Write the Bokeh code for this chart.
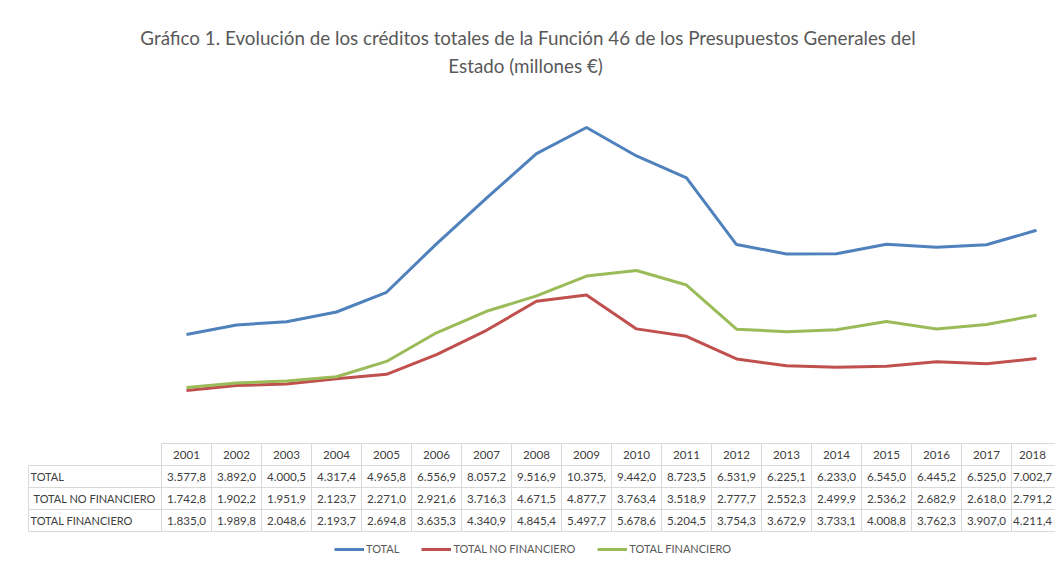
from bokeh.plotting import figure
from bokeh.models import Range1d, Legend, LegendItem, Title
from bokeh.embed import file_html
from bokeh.resources import INLINE
from bokeh.core.properties import value

# ---------------- data ----------------
years = ["2001", "2002", "2003", "2004", "2005", "2006", "2007", "2008", "2009",
         "2010", "2011", "2012", "2013", "2014", "2015", "2016", "2017", "2018"]
total = [3577.8, 3892.0, 4000.5, 4317.4, 4965.8, 6556.9, 8057.2, 9516.9, 10375.0,
         9442.0, 8723.5, 6531.9, 6225.1, 6233.0, 6545.0, 6445.2, 6525.0, 7002.7]
no_fin = [1742.8, 1902.2, 1951.9, 2123.7, 2271.0, 2921.6, 3716.3, 4671.5, 4877.7,
          3763.4, 3518.9, 2777.7, 2552.3, 2499.9, 2536.2, 2682.9, 2618.0, 2791.2]
fin = [1835.0, 1989.8, 2048.6, 2193.7, 2694.8, 3635.3, 4340.9, 4845.4, 5497.7,
       5678.6, 5204.5, 3754.3, 3672.9, 3733.1, 4008.8, 3762.3, 3907.0, 4211.4]
series_names = ["TOTAL", "TOTAL NO FINANCIERO", "TOTAL FINANCIERO"]
series_colors = ["#4F81BD", "#C0504D", "#9BBB59"]
title_line1 = "Gráfico 1. Evolución de los créditos totales de la Función 46 de los Presupuestos Generales del"
title_line2 = "Estado  (millones €)"

# ---------------- layout helpers ----------------
W, H = 1055, 561
TOP = 79
PXU = 207 / 6797.2          # pixels per unit value
def vy(px):                  # picture pixel -> value coordinate
    return (443 - px) / PXU
def vx(px):                  # picture pixel -> category coordinate
    return (px - 186) / 50.0

FONT = "Lato"
GREY = "#595959"

p = figure(width=W, height=H, output_backend="svg", toolbar_location=None,
           x_range=Range1d(vx(0), vx(W)), y_range=Range1d(vy(H), vy(TOP)),
           x_axis_location=None, y_axis_location=None,
           min_border_left=0, min_border_right=0, min_border_bottom=0, min_border_top=TOP)
p.grid.visible = False
p.outline_line_color = None
p.background_fill_color = "white"

p.add_layout(Title(text=title_line2, align="center", text_font=FONT, text_font_size="18.8px",
                   text_font_style="normal", text_color=GREY, standoff=5), "above")
p.add_layout(Title(text=title_line1, align="center", text_font=FONT, text_font_size="18.8px",
                   text_font_style="normal", text_color=GREY, standoff=1), "above")

xs = list(range(len(years)))
renderers = []
for vals, col in zip([total, no_fin, fin], series_colors):
    r = p.line(xs, vals, line_color=col, line_width=3)
    renderers.append(r)

# ---------------- data table ----------------
row_edges = [443, 465, 487, 509, 531]
tl, tr, tt, tb = [], [], [], []
for i in xs:
    for k in range(4):
        tl.append(i - 0.5); tr.append(i + 0.5)
        tt.append(vy(row_edges[k])); tb.append(vy(row_edges[k + 1]))
for k in range(1, 4):
    tl.append(vx(28)); tr.append(-0.5)
    tt.append(vy(row_edges[k])); tb.append(vy(row_edges[k + 1]))
p.quad(left=tl, right=tr, top=tt, bottom=tb, fill_color=None, line_color="#D9D9D9", line_width=1)

def fmt(v):
    s = f"{v:,.1f}".replace(",", "X").replace(".", ",").replace("X", ".")
    if s.startswith("10.375"):
        s = "10.375,"   # clipped in the original cell
    return s

last = len(years) - 1
def colx(i):
    # keep the last (partly cut) column's text inside the picture
    return i - 0.08 if i == last else i

cx, cy, ct = [], [], []
for i, y in enumerate(years):
    cx.append(colx(i)); cy.append(vy(454)); ct.append(y)
for k, vals in enumerate([total, no_fin, fin]):
    for i, v in enumerate(vals):
        cx.append(colx(i)); cy.append(vy(row_edges[k + 1] + 11)); ct.append(fmt(v))
p.text(x=cx, y=cy, text=ct, text_align="center", text_baseline="middle",
       text_font=value(FONT), text_font_size="11.6px", text_color="#404040")

lab_x = [vx(30), vx(33), vx(30)]
lab_y = [vy(row_edges[k + 1] + 11) for k in range(3)]
p.text(x=lab_x, y=lab_y, text=series_names, text_align="left", text_baseline="middle",
       text_font=value(FONT), text_font_size="11px", text_color="#404040")

# ---------------- legend ----------------
legend = Legend(items=[LegendItem(label=n, renderers=[r]) for n, r in zip(series_names, renderers)],
                orientation="horizontal", location=(334, 6), padding=0, margin=0,
                spacing=22, glyph_width=30, glyph_height=12, label_height=12,
                label_standoff=2, label_text_font=FONT, label_text_font_size="11px",
                label_text_color=GREY, border_line_color=None, background_fill_alpha=0)
p.add_layout(legend)

open("out.html", "w").write(file_html(p, INLINE))
